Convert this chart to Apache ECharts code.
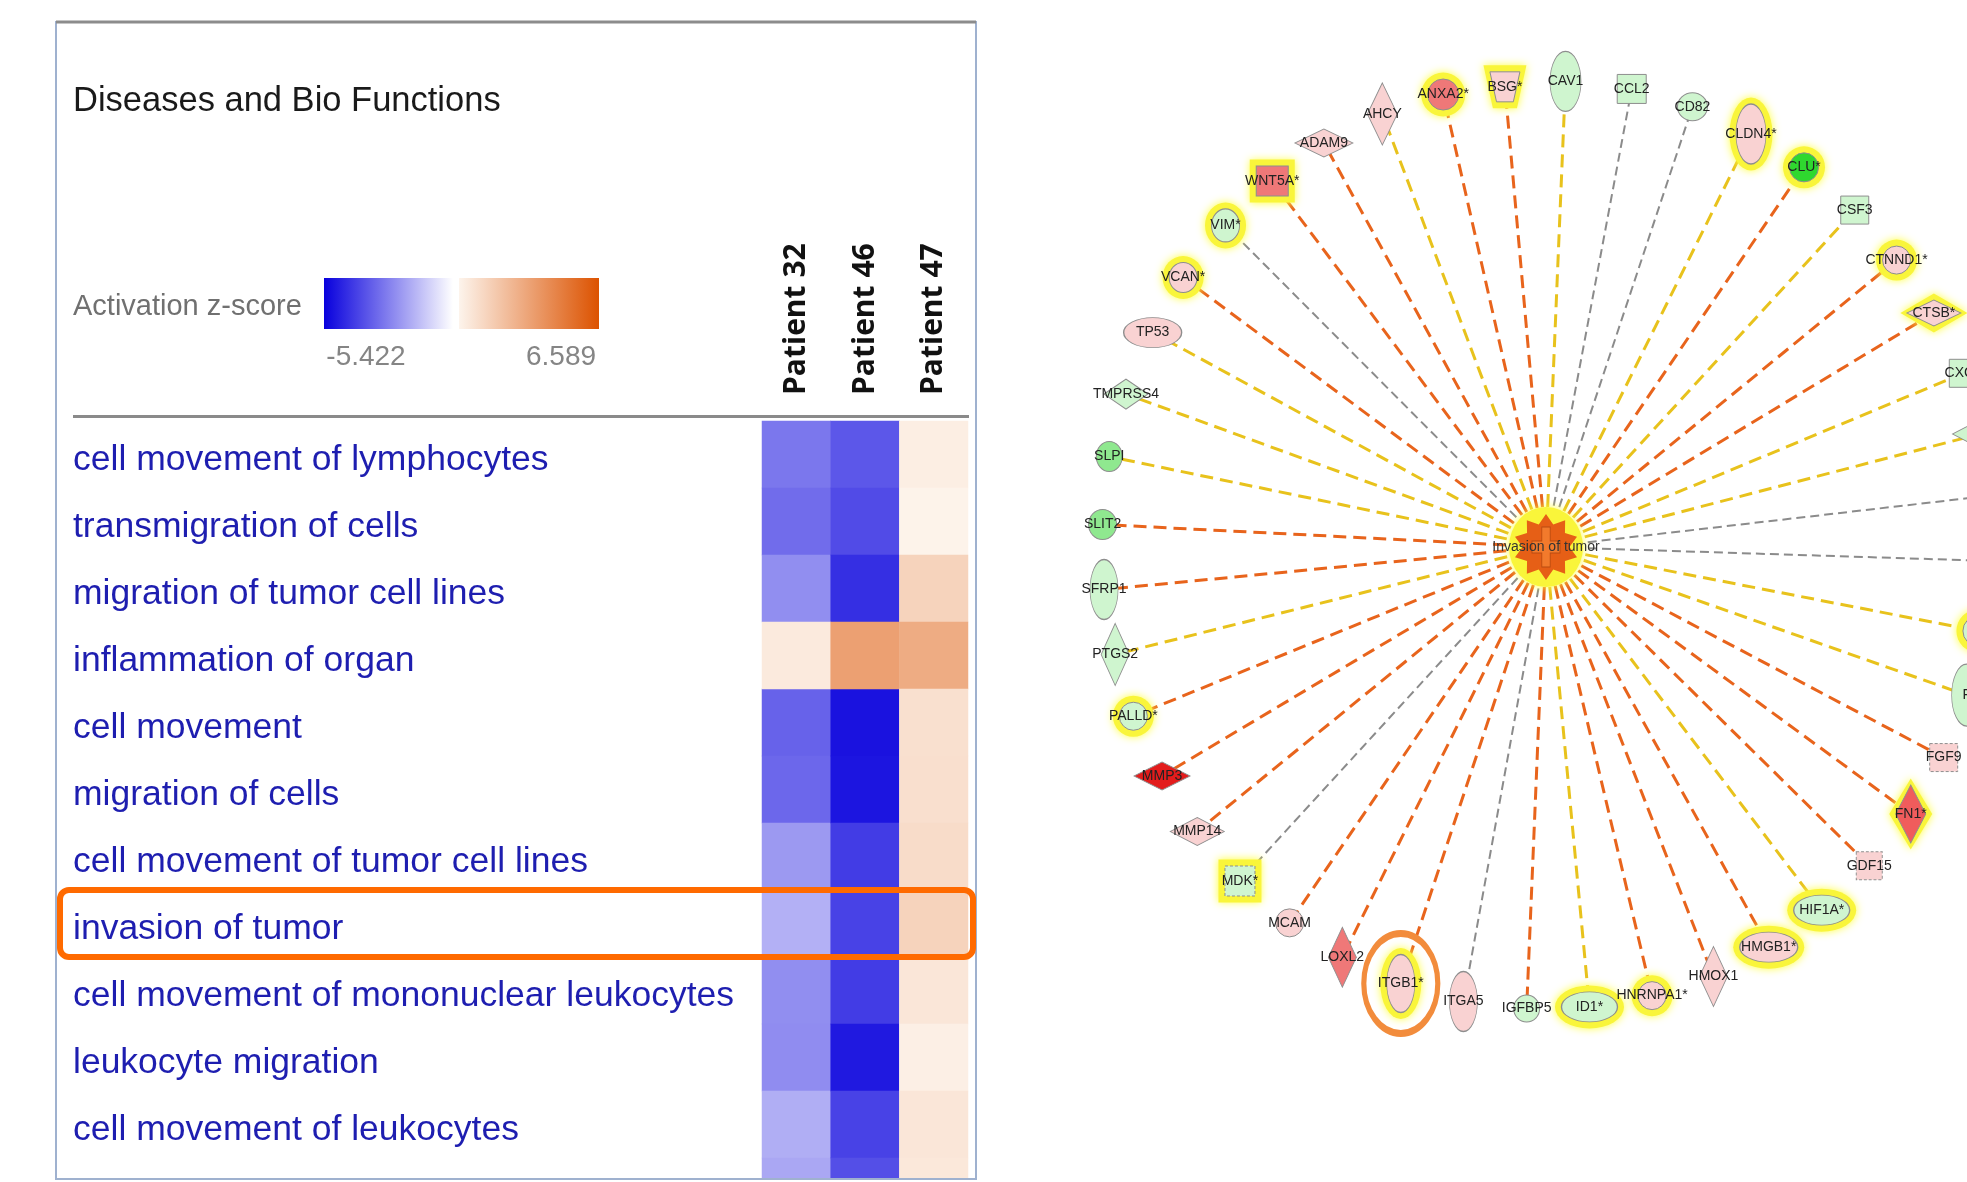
<!DOCTYPE html>
<html>
<head>
<meta charset="utf-8">
<script src="https://cdn.jsdelivr.net/npm/echarts@6/dist/echarts.min.js"></script>
<style>
  html, body { margin: 0; padding: 0; background: #fff; }
  #chart { width: 1967px; height: 1182px; }
</style>
</head>
<body>
<div id="chart"></div>
<script>
// ---- heatmap data (activation z-scores) ----
const functions = [
  'cell movement of lymphocytes',
  'transmigration of cells',
  'migration of tumor cell lines',
  'inflammation of organ',
  'cell movement',
  'migration of cells',
  'cell movement of tumor cell lines',
  'invasion of tumor',
  'cell movement of mononuclear leukocytes',
  'leukocyte migration',
  'cell movement of leukocytes',
  '' // cut off at the bottom of the panel
];
const patients = ['Patient 32', 'Patient 46', 'Patient 47'];
const zPatient32 = [-2.90, -3.12, -2.41, 0.41, -3.34, -3.23, -2.17, -1.67, -2.41, -2.44, -1.73, -1.87];
const zPatient46 = [-3.58, -3.82, -4.43, 3.42, -5.03, -4.98, -4.15, -4.01, -4.15, -4.90, -4.01, -3.75];
const zPatient47 = [0.24, 0.05, 1.34, 2.93, 0.81, 0.85, 0.98, 1.34, 0.57, 0.20, 0.57, 0.49];
const zMin = -5.422;
const zMax = 6.589;
const highlighted = 'invasion of tumor';

// ---- network data: hub + genes, clockwise from ADAM9 ----
const hubName = 'Invasion of tumor';
const genes = ['ADAM9', 'AHCY', 'ANXA2*', 'BSG*', 'CAV1', 'CCL2', 'CD82', 'CLDN4*', 'CLU*', 'CSF3',
  'CTNND1*', 'CTSB*', 'CXCL', 'D', '', '', '', 'F', 'FGF9', 'FN1*', 'GDF15', 'HIF1A*', 'HMGB1*',
  'HMOX1', 'HNRNPA1*', 'ID1*', 'IGFBP5', 'ITGA5', 'ITGB1*', 'LOXL2', 'MCAM', 'MDK*', 'MMP14',
  'MMP3', 'PALLD*', 'PTGS2', 'SFRP1', 'SLIT2', 'SLPI', 'TMPRSS4', 'TP53', 'VCAN*', 'VIM*', 'WNT5A*'];
// polar placement: angle clockwise from 12 o'clock, distance from hub
const geneAngle = [331.2, 339.3, 347.2, 354.9, 2.4, 10.6, 18.4, 26.4, 34.2, 42.5,
  50.7, 58.9, 67.4, 75.4, 83.4, 91.8, 101, 109.4, 117.9, 126.2, 134.6, 142.8, 150.9,
  158.7, 166.7, 174.6, 182.4, 190.3, 198.4, 206.4, 214.3, 222.5, 230.8,
  239.2, 247.7, 256.0, 264.5, 272.9, 281.7, 290.0, 298.6, 306.6, 315.1, 323.2];
const geneRadius = [461, 463, 464, 462, 466, 466, 464, 461, 459, 457,
  453, 453, 452, 448, 450, 450, 440, 446, 450, 452, 454, 456, 458,
  461, 461, 462, 462, 462, 460, 458, 455, 453, 450,
  447, 446, 444, 444, 444, 446, 447, 448, 452, 454, 457];
// relationship: a = leads to activation (orange), i = inconsistent (yellow), n = not predicted (grey)
const edgeKind = ['a', 'i', 'a', 'a', 'i', 'n', 'n', 'i', 'a', 'i',
  'a', 'a', 'i', 'i', 'n', 'n', 'i', 'i', 'a', 'a', 'a', 'i', 'a',
  'a', 'a', 'i', 'a', 'n', 'a', 'a', 'a', 'n', 'a',
  'a', 'a', 'i', 'a', 'a', 'i', 'i', 'i', 'a', 'n', 'a'];
const circledGene = 'ITGB1*';

// ---- node looks: [shape, width, height, fill, glow] ----
const geneLook = [
  ['d', 58, 28, 'lp', 0], ['d', 30, 62, 'lp', 0], ['e', 31, 31, 'sp', 1], ['t', 30, 30, 'lp', 1],
  ['e', 31, 60, 'lg', 0], ['s', 29, 29, 'lg', 0], ['e', 30, 28, 'lg', 0], ['e', 30, 60, 'lp', 1],
  ['e', 29, 29, 'bg', 1], ['s', 28, 28, 'lg', 0], ['e', 28, 28, 'lp', 1], ['d', 54, 26, 'lp', 1],
  ['s', 28, 28, 'lg', 0], ['d', 54, 28, 'lg', 0], ['e', 30, 30, 'lg', 0], ['e', 30, 30, 'lg', 0],
  ['e', 30, 30, 'lg', 1], ['e', 30, 62, 'lg', 0], ['g', 28, 28, 'lp', 0], ['d', 30, 58, 'rs', 1],
  ['g', 26, 28, 'lp', 0], ['e', 56, 30, 'lg', 1], ['e', 58, 30, 'lp', 1], ['d', 28, 60, 'lp', 0],
  ['e', 28, 28, 'lp', 1], ['e', 56, 30, 'lg', 1], ['e', 26, 27, 'lg', 0], ['e', 28, 60, 'lp', 0],
  ['e', 28, 58, 'lp', 1], ['d', 28, 60, 'sp', 0], ['e', 28, 28, 'lp', 0], ['g', 30, 30, 'lg', 1],
  ['d', 54, 28, 'lp', 0], ['d', 56, 28, 'rd', 0], ['e', 28, 28, 'lg', 1], ['d', 28, 62, 'lg', 0],
  ['e', 28, 60, 'lg', 0], ['e', 28, 30, 'mg', 0], ['e', 26, 30, 'mg', 0], ['d', 44, 30, 'lg', 0],
  ['e', 58, 30, 'lp', 0], ['e', 28, 30, 'lp', 1], ['e', 28, 33, 'lg', 1], ['s', 32, 30, 'sp', 1]
];

const ELLIPSE = 'path://M0,50A50,50,0,1,1,100,50A50,50,0,1,1,0,50Z';
const SYMBOL = {
  e: ELLIPSE, d: 'diamond', s: 'rect', g: 'rect',
  t: 'path://M0,0L100,0L78,100L22,100Z'
};
const BURST = 'path://M50,0L61.1,15.8L79.4,9.5L79.1,28.8L97.6,34.5L86,50L97.6,65.5L79.1,71.2L79.4,90.5L61.1,84.2L50,100L38.9,84.2L20.6,90.5L20.9,71.2L2.4,65.5L14,50L2.4,34.5L20.9,28.8L20.6,9.5L38.9,15.8Z';
const PLUS = 'path://M35,0H65V35H100V65H65V100H35V65H0V35H35Z';
const FILL = { lg: '#cff5cf', mg: '#8fe88f', bg: '#2fd82f', lp: '#f9d2d2', sp: '#ef7878', rs: '#f05c5c', rd: '#e31c1c' };
const EDGE = {
  a: { color: '#e8641c', width: 3, type: [13, 7] },
  i: { color: '#e8c21c', width: 3, type: [13, 7] },
  n: { color: '#8b8b8b', width: 2, type: [9, 5] }
};
const BLUE = ['#0800dd', '#ffffff'];
const ORANGE = ['#fdf4ec', '#dc5200'];
const LABEL_FONT = '"Liberation Sans", Arial, sans-serif';

// ---- build series data ----
const zByPatient = [zPatient32, zPatient46, zPatient47];
const negCells = [];
const posCells = [];
zByPatient.forEach((col, x) => col.forEach((z, y) => (z < 0 ? negCells : posCells).push([x, y, z])));

const graphNodes = [{ id: 'hub', name: hubName, value: [0, 0] }].concat(
  genes.map((g, i) => ({ id: 'n' + i, name: g || ('n' + i), value: [geneRadius[i], geneAngle[i]] })));
const graphLinks = genes.map((g, i) => ({ source: 0, target: i + 1, lineStyle: EDGE[edgeKind[i]] }));

const nodeItems = genes.map((g, i) => {
  const [shape, w, h, fill] = geneLook[i];
  return {
    name: g,
    value: [geneRadius[i], geneAngle[i]],
    symbol: SYMBOL[shape],
    symbolSize: [w, h],
    itemStyle: {
      color: FILL[fill], borderColor: '#8e8e8e', borderWidth: 1, opacity: 1,
      borderType: shape === 'g' ? [3, 2] : 'solid'
    }
  };
});
const haloItems = [];
genes.forEach((g, i) => {
  const [shape, w, h, , glow] = geneLook[i];
  if (glow) haloItems.push({ value: [geneRadius[i], geneAngle[i]], symbol: SYMBOL[shape], symbolSize: [w + 13, h + 13] });
});
haloItems.push({ value: [0, 0], symbol: ELLIPSE, symbolSize: [74, 80] });
const ci = genes.indexOf(circledGene);

const chart = echarts.init(document.getElementById('chart'));

const option = {
  backgroundColor: '#ffffff',
  animation: false,
  grid: { left: 762, top: 421, width: 206, height: 804, outerBoundsMode: 'none', containLabel: false },
  xAxis: {
    type: 'category', data: patients, position: 'top',
    axisLine: { show: false }, axisTick: { show: false }, splitLine: { show: false },
    axisLabel: { rotate: -90, margin: 26, fontSize: 30, fontWeight: 'bold', color: '#111', fontFamily: '"Open Sans", sans-serif' }
  },
  yAxis: {
    type: 'category', data: functions, inverse: true,
    axisLine: { show: false }, axisTick: { show: false }, splitLine: { show: false },
    axisLabel: { align: 'left', verticalAlign: 'top', lineHeight: 12, margin: 689, fontSize: 35.5, color: '#1e1eb0', fontFamily: LABEL_FONT }
  },
  visualMap: [
    { type: 'continuous', show: false, seriesIndex: 0, min: zMin, max: 0, inRange: { color: BLUE } },
    { type: 'continuous', show: false, seriesIndex: 1, min: 0, max: zMax, inRange: { color: ORANGE } }
  ],
  polar: { center: [1546, 547], radius: 500 },
  angleAxis: { type: 'value', min: 0, max: 360, startAngle: 90, clockwise: true, show: false },
  radiusAxis: { type: 'value', min: 0, max: 500, show: false },
  series: [
    { type: 'heatmap', data: negCells, emphasis: { disabled: true } },
    { type: 'heatmap', data: posCells, emphasis: { disabled: true } },
    {
      type: 'graph', coordinateSystem: 'polar', z: 1, silent: true,
      symbol: 'none', symbolSize: 1, label: { show: false },
      data: graphNodes, links: graphLinks,
      lineStyle: { opacity: 1, curveness: 0 }
    },
    {
      type: 'scatter', coordinateSystem: 'polar', z: 2, silent: true,
      data: haloItems,
      itemStyle: { color: '#f9f53a', shadowBlur: 8, shadowColor: '#ffff40', opacity: 1 }
    },
    {
      type: 'scatter', coordinateSystem: 'polar', z: 3, silent: true,
      data: nodeItems,
      label: { show: true, position: 'inside', formatter: '{b}', fontSize: 14, color: '#222', fontFamily: LABEL_FONT }
    },
    {
      type: 'scatter', coordinateSystem: 'polar', z: 4, silent: true,
      itemStyle: { opacity: 1 },
      data: [
        { value: [0, 0], symbol: BURST, symbolSize: [62, 66], itemStyle: { color: '#e65f16', opacity: 1 } },
        { value: [0, 0], symbol: PLUS, symbolSize: [28, 40], itemStyle: { color: '#f27a2c', borderColor: '#b84a10', borderWidth: 1, opacity: 1 },
          label: { show: true, position: 'inside', formatter: hubName, fontSize: 14, color: '#333', fontFamily: LABEL_FONT } },
        { value: [geneRadius[ci], geneAngle[ci]], symbol: ELLIPSE, symbolSize: [74, 100],
          itemStyle: { color: 'rgba(0,0,0,0)', borderColor: '#f28c3c', borderWidth: 6, opacity: 1 } }
      ]
    }
  ],
  graphic: [
    { type: 'rect', z: 99, shape: { x: 50, y: 1180, width: 940, height: 10 }, style: { fill: '#fff' } },
    { type: 'rect', z: 100, shape: { x: 56, y: 22, width: 920, height: 1157 }, style: { fill: null, stroke: '#9fb1cf', lineWidth: 2 } },
    { type: 'line', z: 100, shape: { x1: 56, y1: 22, x2: 976, y2: 22 }, style: { stroke: '#8c8c8c', lineWidth: 3 } },
    { type: 'text', left: 73, top: 84, style: { text: 'Diseases and Bio Functions', fontSize: 34.5, fill: '#1a1a1a', fontFamily: LABEL_FONT } },
    { type: 'text', left: 73, top: 292, style: { text: 'Activation z-score', fontSize: 29, fill: '#707070', fontFamily: LABEL_FONT } },
    { type: 'rect', shape: { x: 324, y: 278, width: 129, height: 51 },
      style: { fill: new echarts.graphic.LinearGradient(0, 0, 1, 0, [{ offset: 0, color: BLUE[0] }, { offset: 1, color: BLUE[1] }]) } },
    { type: 'rect', shape: { x: 459, y: 278, width: 140, height: 51 },
      style: { fill: new echarts.graphic.LinearGradient(0, 0, 1, 0, [{ offset: 0, color: ORANGE[0] }, { offset: 1, color: ORANGE[1] }]) } },
    { type: 'text', x: 366, y: 357, style: { text: String(zMin), fontSize: 28, fill: '#858585', align: 'center', verticalAlign: 'middle', fontFamily: LABEL_FONT } },
    { type: 'text', x: 561, y: 357, style: { text: String(zMax), fontSize: 28, fill: '#858585', align: 'center', verticalAlign: 'middle', fontFamily: LABEL_FONT } },
    { type: 'line', shape: { x1: 73, y1: 416.5, x2: 969, y2: 416.5 }, style: { stroke: '#8a8a8a', lineWidth: 3 } }
  ]
};

chart.setOption(option);

// orange frame around the highlighted row, placed from the category axis
const rowIdx = functions.indexOf(highlighted);
const yA = chart.convertToPixel({ gridIndex: 0 }, [0, rowIdx])[1];
const yB = chart.convertToPixel({ gridIndex: 0 }, [0, rowIdx + 1])[1];
const band = yB - yA;
chart.setOption({
  graphic: [{
    id: 'rowMark', type: 'rect', z: 101,
    shape: { x: 60, y: yA - band / 2, width: 913, height: band, r: 9 },
    style: { fill: null, stroke: '#ff6a00', lineWidth: 6 }
  }]
});
</script>
</body>
</html>
